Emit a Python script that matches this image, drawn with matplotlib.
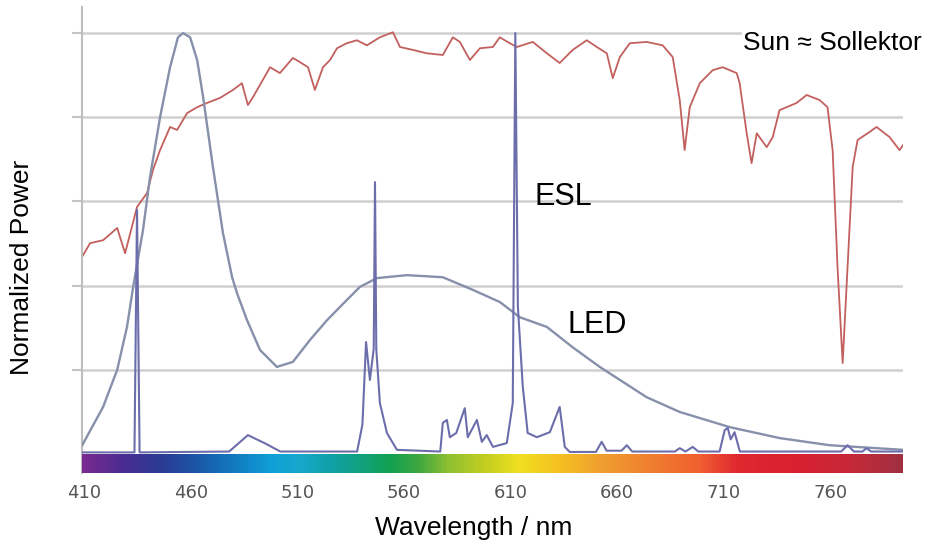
import matplotlib
matplotlib.use('Agg')
import matplotlib.pyplot as plt
import numpy as np
from matplotlib.colors import LinearSegmentedColormap
from matplotlib.patches import Rectangle

plt.rcParams['font.family'] = ['Liberation Sans', 'DejaVu Sans']

# sun spectrum (normalized)
sun_nm = [409, 412.8, 418.9, 425.5, 429.2, 434.8, 439.5, 442.3, 445.6, 450.3,
          453.6, 458.3, 463.0, 467.6, 473.7, 479.8, 484.0, 486.8, 489.2, 497.2,
          501.8, 507.9, 511.2, 515.0, 518.2, 522.0, 525.3, 528.6, 533.2, 537.9,
          542.6, 548.7, 554.8, 558.1, 564.2, 570.7, 578.2, 582.9, 586.2, 590.9,
          595.6, 601.7, 604.9, 609.6, 612.9, 620.4, 627.0, 633.0, 639.1, 645.7,
          650.4, 655.1, 657.9, 661.2, 665.9, 673.8, 681.3, 686.0, 689.3, 691.6,
          694.0, 698.7, 704.8, 709.4, 716.0, 717.4, 720.7, 723.0, 725.4, 730.1,
          732.9, 736.1, 744.1, 748.8, 754.9, 758.6, 761.0, 763.3, 765.7, 768.0,
          770.4, 772.7, 778.3, 781.6, 787.7, 792.4, 794]
sun_y = [0.468, 0.501, 0.508, 0.537, 0.477, 0.587, 0.620, 0.675, 0.722, 0.777,
         0.770, 0.810, 0.824, 0.834, 0.846, 0.865, 0.881, 0.829, 0.848, 0.919,
         0.905, 0.941, 0.931, 0.919, 0.865, 0.919, 0.936, 0.964, 0.976, 0.983,
         0.971, 0.990, 1.002, 0.967, 0.960, 0.952, 0.948, 0.990, 0.979, 0.936,
         0.964, 0.967, 0.990, 0.976, 0.967, 0.979, 0.952, 0.929, 0.960, 0.983,
         0.967, 0.952, 0.893, 0.943, 0.976, 0.979, 0.971, 0.943, 0.841, 0.722,
         0.824, 0.881, 0.912, 0.919, 0.905, 0.881, 0.762, 0.691, 0.762, 0.729,
         0.753, 0.817, 0.834, 0.853, 0.841, 0.824, 0.722, 0.444, 0.216, 0.444,
         0.682, 0.746, 0.765, 0.777, 0.753, 0.722, 0.734]

# LED spectrum
led_nm = [409.1, 418.9, 425.5, 430.1, 433.0, 437.6, 440.9, 445.6, 450.3, 454.0,
          456.4, 459.7, 463.0, 465.8, 470.4, 475.1, 479.4, 481.7, 486.4, 492.5,
          500.4, 507.9, 515.9, 523.9, 533.2, 539.3, 547.3, 561.4, 578.2, 592.3,
          605.0, 614.3, 627.0, 639.0, 651.8, 673.8, 689.3, 712.7, 736.1, 759.6, 794]
led_y = [0.021, 0.112, 0.200, 0.302, 0.397, 0.532, 0.658, 0.800, 0.919, 0.990,
         1.000, 0.990, 0.936, 0.848, 0.682, 0.525, 0.420, 0.382, 0.318, 0.247,
         0.207, 0.219, 0.271, 0.318, 0.366, 0.397, 0.418, 0.425, 0.420, 0.390,
         0.361, 0.325, 0.302, 0.254, 0.207, 0.135, 0.100, 0.064, 0.038, 0.021, 0.010]

# ESL (compact fluorescent) spectrum
esl_nm = [409, 433.6, 434.8, 436.0, 478, 486.8, 495, 502, 538, 540.5,
          542.2, 544.0, 545.8, 546.4, 547.0, 548.7, 552.0, 556.7, 577.0, 578.2,
          580.1, 581.5, 584.5, 588.5, 589.9, 594.2, 596.5, 598.8, 601.7, 608.2,
          611.0, 612.2, 613.4, 615.7, 618.0, 622.3, 628.4, 633.0, 635.4, 637.7,
          650, 652.7, 655, 662, 664.5, 667, 687, 689.3, 692, 695.4,
          698, 708, 710.4, 711.8, 713.2, 715.0, 717.5, 765, 768.0, 771,
          775, 776.9, 779, 794]
esl_y = [0.004, 0.004, 0.58, 0.004, 0.006, 0.045, 0.025, 0.006, 0.006, 0.07,
         0.266, 0.176, 0.25, 0.646, 0.25, 0.121, 0.05, 0.01, 0.006, 0.074,
         0.081, 0.04, 0.05, 0.109, 0.04, 0.081, 0.029, 0.045, 0.017, 0.026,
         0.121, 1.0, 0.35, 0.16, 0.05, 0.04, 0.052, 0.112, 0.017, 0.005,
         0.005, 0.029, 0.008, 0.008, 0.021, 0.006, 0.006, 0.014, 0.006, 0.017,
         0.006, 0.006, 0.057, 0.062, 0.035, 0.052, 0.006, 0.006, 0.021, 0.006,
         0.006, 0.014, 0.006, 0.006]

# colour strip under the plot
bar_nm = [409, 427, 446, 464, 483, 497, 511, 525, 539, 553, 567,
          581, 600, 614, 633, 652, 675, 699, 717, 745, 769, 794]
bar_colors = ['#7a2a90', '#4a2c92', '#2a3c94', '#1a5aaa', '#1080c4', '#10a0d8',
              '#18a8cc', '#10a0a8', '#10a080', '#10a050', '#40a840', '#90c030',
              '#c8d020', '#f0e020', '#f5c020', '#f0a030', '#f08030', '#f06030',
              '#e02830', '#d82030', '#c82838', '#a03040']

xticks = [410, 460, 510, 560, 610, 660, 710, 760]

fig = plt.figure(figsize=(9.28, 5.51), dpi=100)
ax = fig.add_axes([82/928, 78/551, 821/928, 466/551])

x0, x1 = 409, 794
ax.set_xlim(x0, x1)
ax.set_ylim(-0.045, 1.062)

pos = [(v - x0) / (x1 - x0) for v in bar_nm]
cmap = LinearSegmentedColormap.from_list('spec', list(zip(pos, bar_colors)))
ax.imshow(np.linspace(0, 1, 600)[None, :], cmap=cmap, aspect='auto',
          extent=[x0, x1, -0.045, 0], zorder=4)

ax.plot(sun_nm, sun_y, color='#c2605e', lw=1.3, zorder=2)
ax.plot(led_nm, led_y, color='#8790ab', lw=1.7, zorder=3)
ax.plot(esl_nm, esl_y, color='#6c6eac', lw=1.5, zorder=3)

ax.set_yticks([0.2, 0.4, 0.6, 0.8, 1.0])
ax.set_yticklabels([])
ax.yaxis.grid(True, color='#d0d0d0', lw=1.8, zorder=0)
ax.set_axisbelow(True)
ax.tick_params(axis='y', length=7, width=1.5, color='#c4c4c4', direction='out')

ax.set_xticks(xticks)
ax.set_xticklabels([str(t) for t in xticks], family='DejaVu Sans')
ax.tick_params(axis='x', length=0, pad=8, labelsize=13, labelcolor='#555555')

for s in ['top', 'right', 'bottom']:
    ax.spines[s].set_visible(False)
ax.spines['left'].set_color('#bdbdbd')
ax.spines['left'].set_linewidth(1.5)

# white box behind the sun label
ax.add_patch(Rectangle((742/928, 1 - 88/551), 186/928, 88/551,
                       transform=fig.transFigure, facecolor='white',
                       edgecolor='none', clip_on=False, zorder=5))
ax.text(718.8, 0.960, 'Sun \u2248 Sollektor', fontsize=19, va='baseline',
        ha='left', zorder=6)
ax.text(621.3, 0.591, 'ESL', fontsize=22, va='baseline', ha='left', zorder=6)
ax.text(636.8, 0.287, 'LED', fontsize=22, va='baseline', ha='left', zorder=6)

fig.text(474/928, 16/551, 'Wavelength / nm', fontsize=19, ha='center', va='baseline')
fig.text(22/928, 284/551, 'Normalized Power', fontsize=19, rotation=90,
         ha='center', va='center')

fig.savefig('out.png', dpi=100, facecolor='white')
